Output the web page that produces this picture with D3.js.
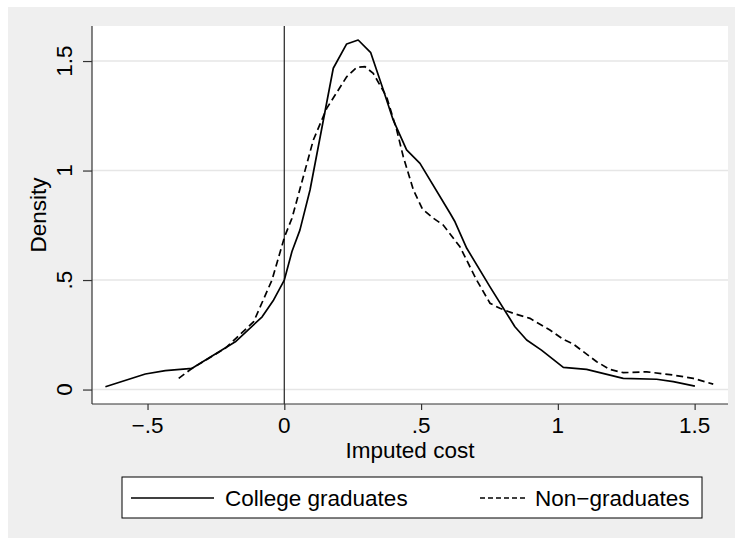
<!DOCTYPE html>
<html>
<head>
<meta charset="utf-8">
<script src="https://cdn.jsdelivr.net/npm/d3@7"></script>
<style>
  body { margin: 0; background: #fff; }
  text { font-family: "Liberation Sans", Arial, Helvetica, sans-serif; fill: #000; }
</style>
</head>
<body>
<div id="chart"></div>
<script>
// kernel density
const collegeX = [-0.654, -0.508, -0.435, -0.337, -0.179, -0.081, -0.039, 0.0, 0.028, 0.057, 0.094, 0.179, 0.228, 0.270, 0.316, 0.362, 0.398, 0.447, 0.496, 0.606, 0.624, 0.667, 0.752, 0.843, 0.886, 0.94, 1.020, 1.105, 1.239, 1.361, 1.422, 1.501];
const collegeY = [0.013, 0.071, 0.086, 0.097, 0.218, 0.332, 0.409, 0.5, 0.63, 0.728, 0.911, 1.467, 1.578, 1.596, 1.538, 1.368, 1.231, 1.094, 1.033, 0.805, 0.766, 0.645, 0.469, 0.287, 0.226, 0.18, 0.101, 0.092, 0.051, 0.047, 0.036, 0.016];

const nongradX = [-0.386, -0.337, -0.216, -0.112, -0.045, 0.001, 0.028, 0.106, 0.155, 0.228, 0.265, 0.295, 0.325, 0.374, 0.411, 0.435, 0.472, 0.505, 0.545, 0.581, 0.642, 0.703, 0.752, 0.788, 0.837, 0.898, 0.971, 1.020, 1.056, 1.142, 1.19, 1.239, 1.325, 1.422, 1.495, 1.568];
const nongradY = [0.051, 0.097, 0.188, 0.310, 0.5, 0.698, 0.782, 1.139, 1.284, 1.428, 1.471, 1.474, 1.444, 1.337, 1.185, 1.063, 0.911, 0.824, 0.782, 0.751, 0.652, 0.5, 0.394, 0.371, 0.348, 0.325, 0.272, 0.229, 0.208, 0.127, 0.092, 0.077, 0.081, 0.066, 0.051, 0.025];

const xTicks = [-0.5, 0, 0.5, 1, 1.5];
const xTickLabels = ["\u2212.5", "0", ".5", "1", "1.5"];
const yTicks = [0, 0.5, 1, 1.5];
const yTickLabels = ["0", ".5", "1", "1.5"];

const seriesNames = ["College graduates", "Non\u2212graduates"];

const width = 735, height = 539;
const plot = {left: 92, right: 728, top: 26, bottom: 404};
const fontSize = "22.5px";

const svg = d3.select("#chart")
    .append("svg")
    .attr("width", width)
    .attr("height", height);

// graph region
svg.append("rect")
    .attr("x", 8).attr("y", 7)
    .attr("width", width - 8).attr("height", height - 8)
    .attr("fill", "#efefef");

// plot region
svg.append("rect")
    .attr("x", plot.left).attr("y", plot.top)
    .attr("width", plot.right - plot.left).attr("height", plot.bottom - plot.top)
    .attr("fill", "#fff");

const x = d3.scaleLinear()
    .domain([-0.703, 1.622])
    .range([plot.left, plot.right]);

const y = d3.scaleLinear()
    .domain([-0.066, 1.660])
    .range([plot.bottom, plot.top]);

// gridlines
svg.append("g")
    .selectAll("line")
    .data(yTicks)
    .enter().append("line")
    .attr("x1", plot.left).attr("x2", plot.right)
    .attr("y1", d => y(d)).attr("y2", d => y(d))
    .attr("stroke", "#e6e6e6")
    .attr("stroke-width", 1.5);

// xline at 0
svg.append("line")
    .attr("x1", x(0)).attr("x2", x(0))
    .attr("y1", plot.top).attr("y2", plot.bottom)
    .attr("stroke", "#333")
    .attr("stroke-width", 1.3);

// y axis
const yAxis = d3.axisLeft(y)
    .tickValues(yTicks)
    .tickSize(9)
    .tickFormat("");

const yg = svg.append("g")
    .attr("transform", `translate(${plot.left},0)`)
    .call(yAxis);
yg.select(".domain").attr("d", `M0,${plot.top}V${plot.bottom}`);
yg.selectAll("line, path").attr("stroke", "#333").attr("stroke-width", 1.2);

svg.append("g")
    .selectAll("text")
    .data(yTicks)
    .enter().append("text")
    .attr("transform", d => `translate(72,${y(d)}) rotate(-90)`)
    .attr("text-anchor", "middle")
    .style("font-size", fontSize)
    .text((d, i) => yTickLabels[i]);

// x axis
const xAxis = d3.axisBottom(x)
    .tickValues(xTicks)
    .tickSize(6)
    .tickFormat("");

const xg = svg.append("g")
    .attr("transform", `translate(0,${plot.bottom})`)
    .call(xAxis);
xg.select(".domain").attr("d", `M${plot.left},0H${plot.right}`);
xg.selectAll("line, path").attr("stroke", "#333").attr("stroke-width", 1.2);

svg.append("g")
    .selectAll("text")
    .data(xTicks)
    .enter().append("text")
    .attr("x", d => x(d))
    .attr("y", 433)
    .attr("text-anchor", "middle")
    .style("font-size", fontSize)
    .text((d, i) => xTickLabels[i]);

// axis titles
svg.append("text")
    .attr("x", (plot.left + plot.right) / 2)
    .attr("y", 458)
    .attr("text-anchor", "middle")
    .style("font-size", fontSize)
    .text("Imputed cost");

svg.append("text")
    .attr("transform", `translate(46,${(plot.top + plot.bottom) / 2}) rotate(-90)`)
    .attr("text-anchor", "middle")
    .style("font-size", fontSize)
    .text("Density");

// curves
const line = d3.line()
    .x(d => x(d[0]))
    .y(d => y(d[1]));

const college = collegeX.map((v, i) => [v, collegeY[i]]);
const nongrad = nongradX.map((v, i) => [v, nongradY[i]]);

svg.append("path")
    .datum(college)
    .attr("d", line)
    .attr("fill", "none")
    .attr("stroke", "#000")
    .attr("stroke-width", 1.7)
    .attr("stroke-linejoin", "round");

svg.append("path")
    .datum(nongrad)
    .attr("d", line)
    .attr("fill", "none")
    .attr("stroke", "#000")
    .attr("stroke-width", 1.7)
    .attr("stroke-dasharray", "7,4");

// legend
const legend = svg.append("g");

legend.append("rect")
    .attr("x", 122).attr("y", 477)
    .attr("width", 580).attr("height", 41)
    .attr("fill", "#fff")
    .attr("stroke", "#000")
    .attr("stroke-width", 1);

legend.append("line")
    .attr("x1", 131).attr("x2", 214)
    .attr("y1", 498).attr("y2", 498)
    .attr("stroke", "#000").attr("stroke-width", 1.7);

legend.append("text")
    .attr("x", 225).attr("y", 505.5)
    .style("font-size", fontSize)
    .text(seriesNames[0]);

legend.append("line")
    .attr("x1", 480).attr("x2", 528)
    .attr("y1", 498).attr("y2", 498)
    .attr("stroke", "#000").attr("stroke-width", 1.7)
    .attr("stroke-dasharray", "5,3");

legend.append("text")
    .attr("x", 535).attr("y", 505.5)
    .style("font-size", fontSize)
    .text(seriesNames[1]);
</script>
</body>
</html>
